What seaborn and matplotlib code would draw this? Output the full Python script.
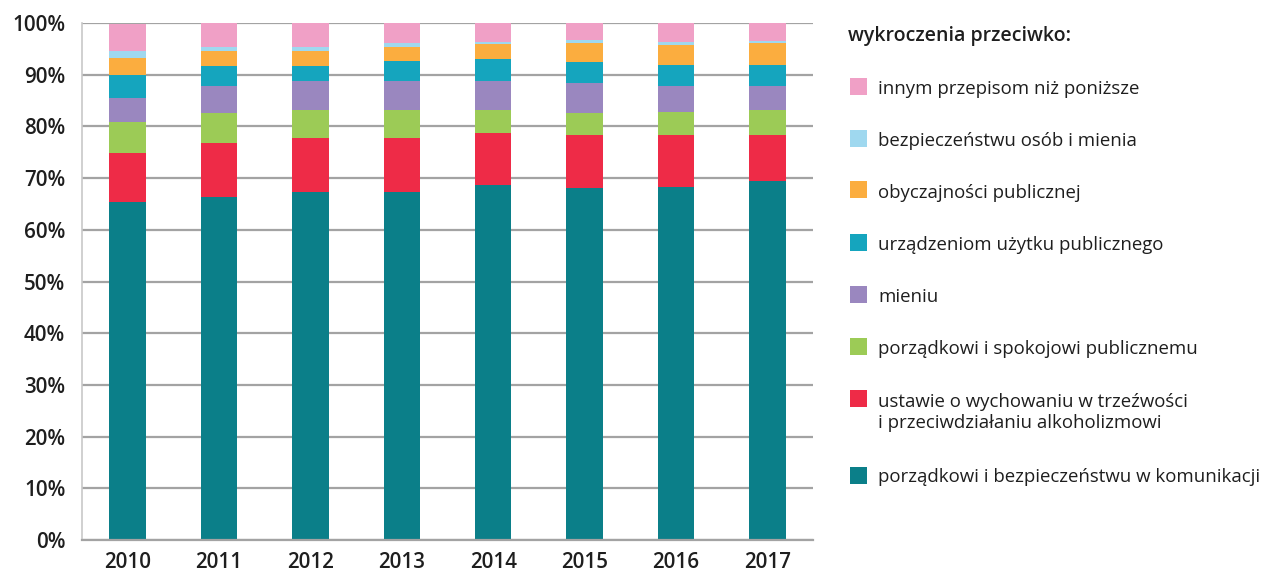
import numpy as np
import pandas as pd
import seaborn as sns
import matplotlib.pyplot as plt
from matplotlib.patches import Rectangle

# Dane: udział wykroczeń (%) wg kategorii, lata 2010-2017
years = ["2010", "2011", "2012", "2013", "2014", "2015", "2016", "2017"]

komunikacja = [65.4, 66.3, 67.4, 67.4, 68.6, 68.0, 68.3, 69.4]
alkohol = [9.4, 10.4, 10.4, 10.4, 10.2, 10.3, 10.0, 8.9]
porzadek = [6.0, 5.8, 5.4, 5.4, 4.4, 4.2, 4.5, 4.9]
mienie = [4.7, 5.3, 5.6, 5.6, 5.6, 5.8, 5.0, 4.6]
urzadzenia = [4.5, 3.9, 2.9, 3.8, 4.2, 4.2, 4.0, 4.0]
obyczajnosc = [3.3, 2.9, 2.9, 2.7, 2.9, 3.7, 3.9, 4.3]
bezpieczenstwo = [1.2, 0.7, 0.7, 0.9, 0.5, 0.6, 0.6, 0.4]
inne = [5.4, 4.7, 4.7, 3.8, 3.6, 3.2, 3.7, 3.5]

series_names = [
    "porządkowi i bezpieczeństwu w komunikacji",
    "ustawie o wychowaniu w trzeźwości\ni przeciwdziałaniu alkoholizmowi",
    "porządkowi i spokojowi publicznemu",
    "mieniu",
    "urządzeniom użytku publicznego",
    "obyczajności publicznej",
    "bezpieczeństwu osób i mienia",
    "innym przepisom niż poniższe",
]
series_values = [komunikacja, alkohol, porzadek, mienie, urzadzenia,
                 obyczajnosc, bezpieczenstwo, inne]
colors = ["#0b7f89", "#ee2b47", "#9ccb56", "#9a87bf", "#15a5be",
          "#fbad3f", "#9fd8ef", "#f0a0c6"]

sns.set_style("white")
plt.rcParams["font.family"] = ["Open Sans", "DejaVu Sans"]

fig = plt.figure(figsize=(12.63, 5.71), dpi=100)
ax = fig.add_axes([82 / 1263, 31 / 571, 731 / 1263, 517 / 571])

grid_c = "#a3a3a3"
ax.set_axisbelow(True)
ax.yaxis.grid(True, color=grid_c, linewidth=1.6)

bottom = np.zeros(len(years))
for name, vals, col in zip(series_names, series_values, colors):
    v = np.array(vals) / 100
    sns.barplot(x=years, y=v, bottom=bottom, color=col, width=0.4,
                saturation=1, ax=ax, linewidth=0)
    bottom = bottom + v

ax.set_ylim(0, 1)
ax.set_xlim(-0.5, len(years) - 0.5)
ax.set_yticks(np.arange(0, 1.01, 0.1))
ax.set_yticklabels([f"{int(round(t * 100))}%" for t in np.arange(0, 1.01, 0.1)])
ax.set_xticks(np.arange(len(years)))
ax.set_xticklabels(years)
ax.set_xlabel("")
ax.set_ylabel("")

# znaczniki osi X pomiędzy kategoriami
ax.set_xticks(np.arange(-0.5, len(years)), minor=True)
ax.tick_params(axis="x", which="major", length=0, pad=9)
ax.tick_params(axis="x", which="minor", length=8, width=1.3, color=grid_c)
ax.tick_params(axis="y", length=7, width=1.3, color=grid_c, pad=5)
ax.tick_params(labelsize=14.8, labelcolor="#1e1e1e")
for lab in ax.get_xticklabels() + ax.get_yticklabels():
    lab.set_fontweight("semibold")

for s in ["top", "right"]:
    ax.spines[s].set_visible(False)
ax.spines["left"].set_color("#c8c8c8")
ax.spines["left"].set_linewidth(1.2)
ax.spines["bottom"].set_color(grid_c)
ax.spines["bottom"].set_linewidth(1.6)

# legenda
W, H = 1263, 571
fig.text(848 / W, 1 - 41.5 / H, "wykroczenia przeciwko:", fontsize=14,
         fontweight="semibold", color="#1e1e1e", va="baseline", ha="left")
leg_y = [475, 398, 346, 294, 242, 190, 138, 86]
for name, col, yc in zip(series_names, colors, leg_y):
    fig.add_artist(Rectangle((850 / W, 1 - (yc + 8.5) / H), 17 / W, 17 / H,
                             transform=fig.transFigure, color=col, lw=0))
    extra = 22 * name.count("\n")
    fig.text(878 / W, 1 - (yc + 7.5 + extra) / H, name, fontsize=13.4,
             fontweight="medium", color="#1e1e1e",
             va="baseline", ha="left", linespacing=1.2)

fig.savefig("out.png", dpi=100)
